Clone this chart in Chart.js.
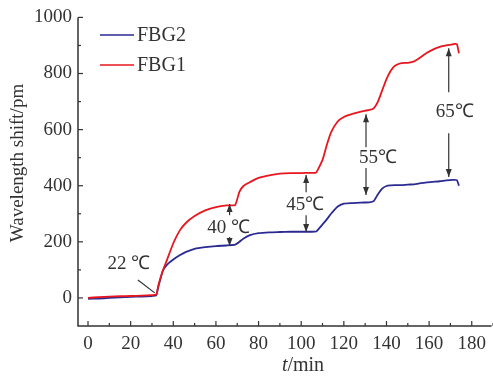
<!DOCTYPE html>
<html>
<head>
<meta charset="utf-8">
<script src="https://cdn.jsdelivr.net/npm/chart.js@4.4.1/dist/chart.umd.min.js"></script>
<style>
  body { margin: 0; background: #fff; }
  #wrap { width: 493px; height: 379px; }
</style>
</head>
<body>
<div id="wrap"><canvas id="chart1"></canvas></div>
<script>
// time in min
const time = [0,5,10,15,20,25,30,32,33,35,37,40,43,46,50,55,60,65,69,71,73,76,80,85,90,95,100,104,107,110,112,114,117,120,124,128,132,134,136,138,140,142,144,147,150,153,156,159,162,165,168,171,173,174];
// wavelength shift, pm
const fbg1 = [0,3,5,6,7,8,10,12,45,95,135,195,240,268,292,312,324,330,331,378,400,413,428,437,443,445,445,446,447,492,545,590,628,645,656,664,670,676,700,740,780,810,828,837,838,843,858,874,886,895,900,904,905,872];
const fbg2 = [-3,-2,0,2,4,5,7,9,40,95,118,137,152,164,175,181,185,187,190,200,212,224,231,234,235,236,236,236,237,262,280,300,325,336,338,340,341,345,370,390,399,401,402,402,404,405,409,412,414,416,419,421,420,400];

const xTicks = [0,20,40,60,80,100,120,140,160,180];
const yTicks = [0,200,400,600,800,1000];

// temperature labels: text pos, arrow up (from,to), arrow down (from,to), all at x
const tempLabels = [
  { text: '40 \u2103', x: 65.9, y: 249, ax: 66.4, up: [295, 335], down: [217, 185] },
  { text: '45\u2103', x: 101.9, y: 331, ax: 102.3, up: [377, 438], down: [295, 235] },
  { text: '55\u2103', x: 136, y: 498, ax: 130.4, up: [537, 655], down: [463, 367] },
  { text: '65\u2103', x: 172, y: 662, ax: 169.2, up: [733, 890], down: [587, 431] }
];

const serif = '"Liberation Serif", "Times New Roman", serif';
const ink = '#333';

function arrow(ctx, x, y1, y2) {
  ctx.beginPath();
  ctx.moveTo(x, y1);
  ctx.lineTo(x, y2);
  ctx.stroke();
  const d = y2 < y1 ? 1 : -1;
  ctx.beginPath();
  ctx.moveTo(x, y2);
  ctx.lineTo(x - 3, y2 + d * 8);
  ctx.lineTo(x + 3, y2 + d * 8);
  ctx.closePath();
  ctx.fill();
}

const extras = {
  id: 'extras',
  afterDraw(chart) {
    const ctx = chart.ctx;
    const a = chart.chartArea;
    const xs = chart.scales.x, ys = chart.scales.y;
    ctx.save();
    ctx.strokeStyle = ink;
    ctx.fillStyle = ink;
    // axes
    ctx.lineWidth = 1.5;
    ctx.beginPath();
    ctx.moveTo(a.left, a.top);
    ctx.lineTo(a.left, a.bottom);
    ctx.lineTo(a.right, a.bottom);
    ctx.stroke();
    // inward ticks
    ctx.lineWidth = 1.2;
    for (let v = 0; v <= 190; v += 10) {
      const px = xs.getPixelForValue(v);
      const len = v % 20 === 0 ? 5 : 3;
      ctx.beginPath();
      ctx.moveTo(px, a.bottom);
      ctx.lineTo(px, a.bottom - len);
      ctx.stroke();
    }
    for (let v = 0; v <= 1000; v += 100) {
      const py = ys.getPixelForValue(v);
      const len = v % 200 === 0 ? 5 : 3;
      ctx.beginPath();
      ctx.moveTo(a.left, py);
      ctx.lineTo(a.left + len, py);
      ctx.stroke();
    }
    // axis titles
    ctx.textBaseline = 'middle';
    ctx.textAlign = 'left';
    ctx.font = 'italic 20px ' + serif;
    const tW = ctx.measureText('t').width;
    ctx.font = '20px ' + serif;
    const rW = ctx.measureText('/min').width;
    const cx = 303 - (tW + rW) / 2;
    ctx.font = 'italic 20px ' + serif;
    ctx.fillText('t', cx, 366);
    ctx.font = '20px ' + serif;
    ctx.fillText('/min', cx + tW, 366);
    ctx.save();
    ctx.font = '19px ' + serif;
    ctx.translate(18, 163);
    ctx.rotate(-Math.PI / 2);
    ctx.textAlign = 'center';
    ctx.fillText('Wavelength shift/pm', 0, 0);
    ctx.restore();
    // legend
    const legend = [chart.data.datasets[1], chart.data.datasets[0]];
    legend.forEach((ds, i) => {
      const y = 35 + i * 30;
      ctx.strokeStyle = ds.borderColor;
      ctx.lineWidth = 1.5;
      ctx.beginPath();
      ctx.moveTo(100, y);
      ctx.lineTo(134, y);
      ctx.stroke();
      ctx.fillStyle = ink;
      ctx.textAlign = 'left';
      ctx.fillText(ds.label, 137, y + 1);
    });
    // 22 C label
    ctx.strokeStyle = ink;
    ctx.fillStyle = ink;
    ctx.lineWidth = 1.2;
    ctx.textAlign = 'center';
    ctx.font = '19px ' + serif;
    ctx.fillText('22 \u2103', xs.getPixelForValue(19.2), ys.getPixelForValue(121));
    ctx.beginPath();
    ctx.moveTo(xs.getPixelForValue(23.4), ys.getPixelForValue(64));
    ctx.lineTo(xs.getPixelForValue(31.3), ys.getPixelForValue(18));
    ctx.stroke();
    // temperature arrows
    tempLabels.forEach(t => {
      ctx.fillText(t.text, xs.getPixelForValue(t.x), ys.getPixelForValue(t.y));
      const ax = xs.getPixelForValue(t.ax);
      arrow(ctx, ax, ys.getPixelForValue(t.up[0]), ys.getPixelForValue(t.up[1]));
      arrow(ctx, ax, ys.getPixelForValue(t.down[0]), ys.getPixelForValue(t.down[1]));
    });
    ctx.restore();
  }
};

const ctx = document.getElementById('chart1');
new Chart(ctx, {
  type: 'line',
  data: {
    datasets: [
      {
        label: 'FBG1',
        data: time.map((t, i) => ({ x: t, y: fbg1[i] })),
        borderColor: '#e8161e',
        borderWidth: 1.8,
        pointRadius: 0,
        tension: 0.15
      },
      {
        label: 'FBG2',
        data: time.map((t, i) => ({ x: t, y: fbg2[i] })),
        borderColor: '#2b2a92',
        borderWidth: 1.8,
        pointRadius: 0,
        tension: 0.15
      }
    ]
  },
  options: {
    responsive: true,
    maintainAspectRatio: false,
    animation: false,
    layout: { padding: { top: 17, right: 0, left: 0, bottom: 0 } },
    plugins: { legend: { display: false }, tooltip: { enabled: false } },
    scales: {
      x: {
        type: 'linear',
        min: -4.7,
        max: 189.3,
        afterFit: s => { s.height = 53; },
        afterBuildTicks: s => { s.ticks = xTicks.map(v => ({ value: v })); },
        grid: { display: false, drawTicks: false },
        border: { display: false },
        ticks: { padding: 7, color: ink, font: { family: serif, size: 19 }, maxRotation: 0, callback: v => String(v) }
      },
      y: {
        type: 'linear',
        min: -100,
        max: 1000,
        afterFit: s => { s.width = 78; },
        afterBuildTicks: s => { s.ticks = yTicks.map(v => ({ value: v })); },
        grid: { display: false, drawTicks: false },
        border: { display: false },
        ticks: { padding: 6, color: ink, font: { family: serif, size: 19 }, callback: v => String(v) }
      }
    }
  },
  plugins: [extras]
});
</script>
</body>
</html>
